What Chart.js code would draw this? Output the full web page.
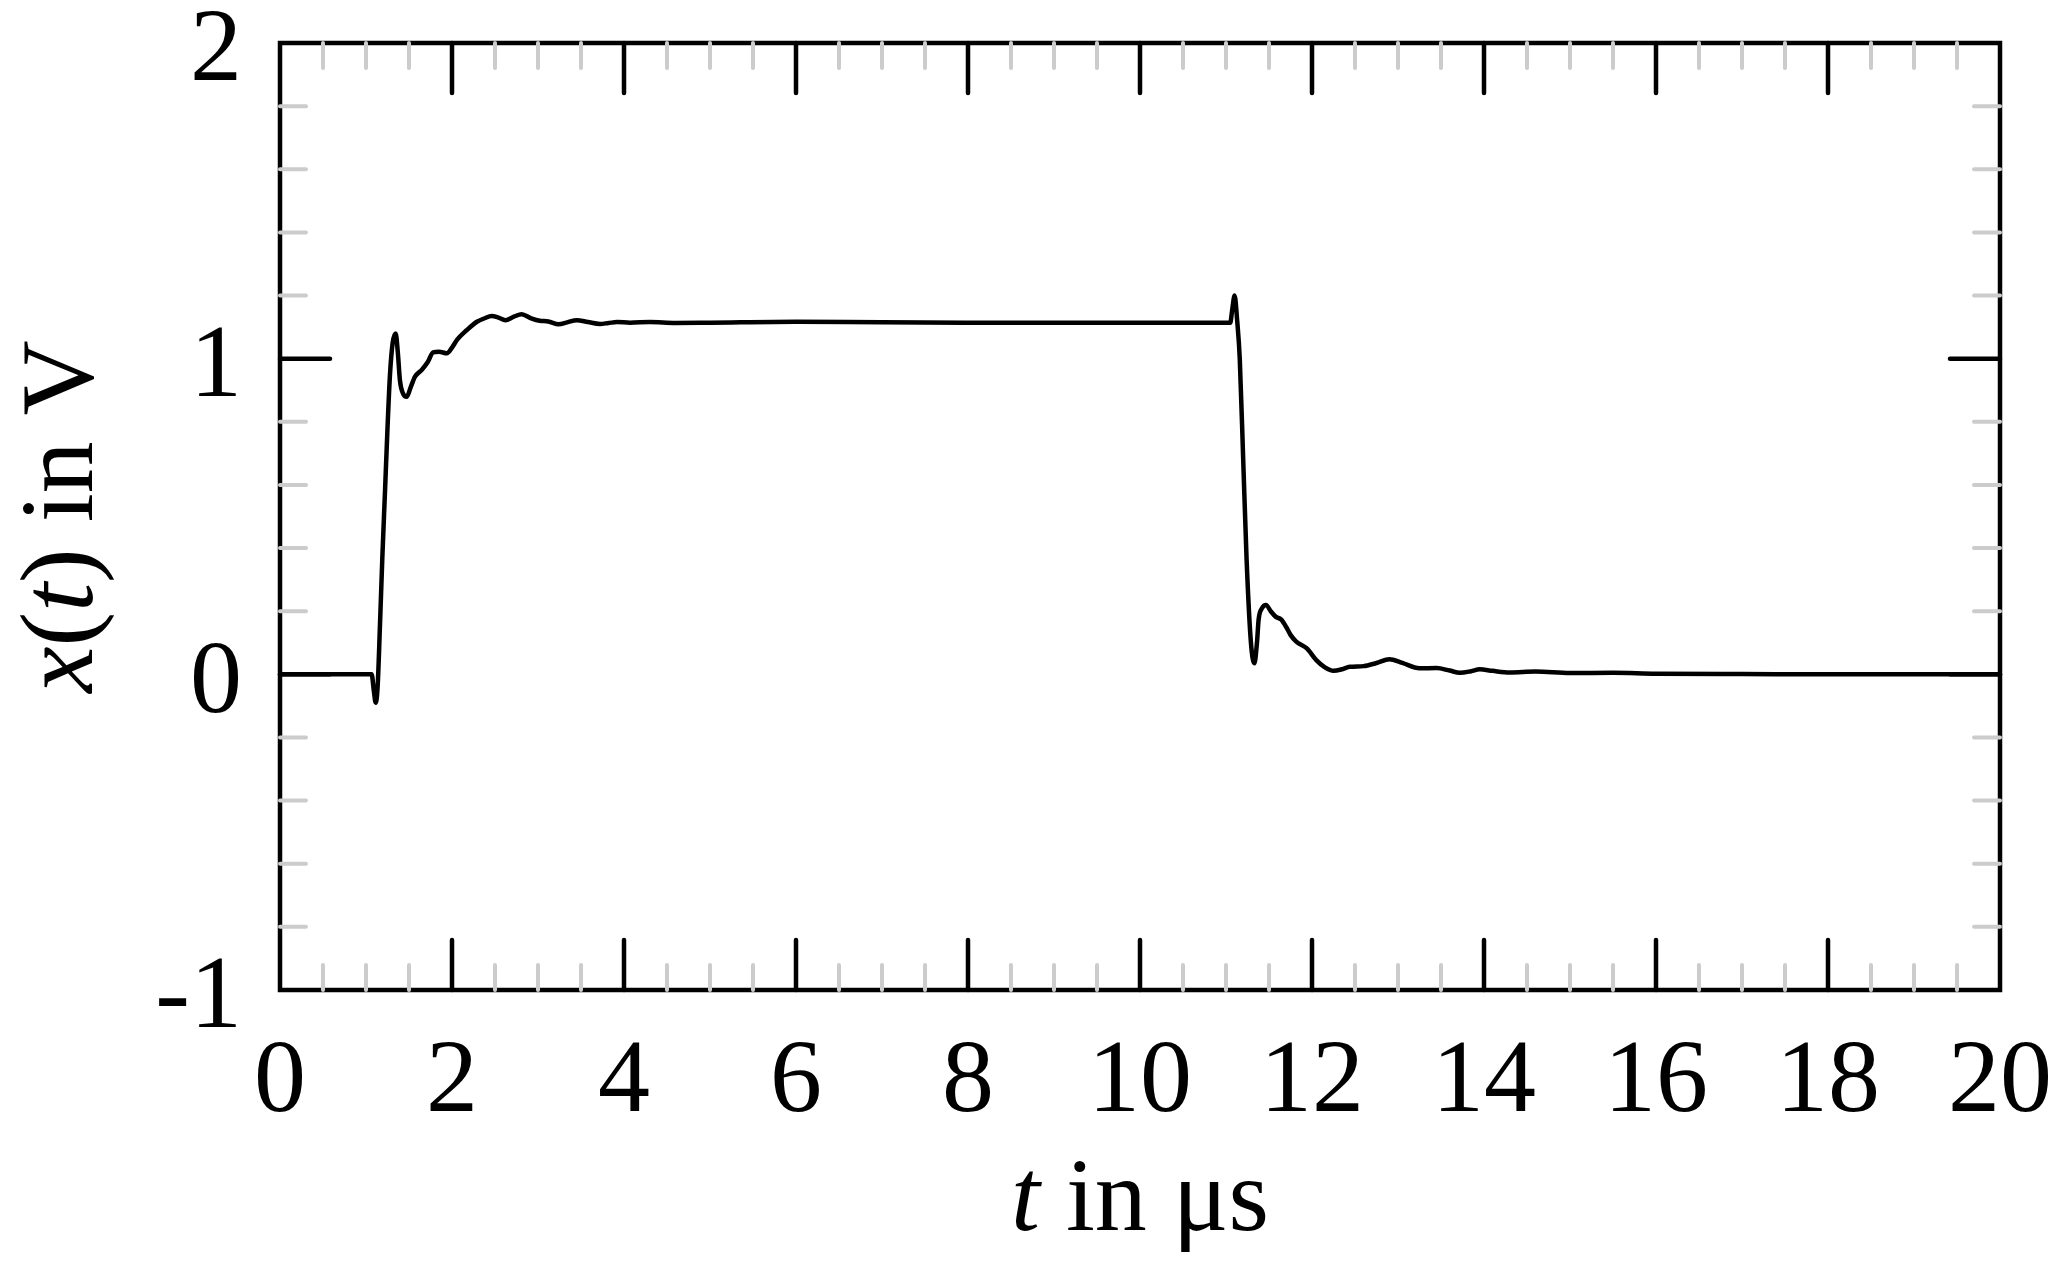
<!DOCTYPE html>
<html>
<head>
<meta charset="utf-8">
<script src="https://cdn.jsdelivr.net/npm/chart.js@4/dist/chart.umd.min.js"></script>
<style>
  html, body { margin: 0; padding: 0; background: #fff; }
  #wrap { width: 2067px; height: 1270px; }
</style>
</head>
<body>
<div id="wrap"><canvas id="signal"></canvas></div>
<script>
// time axis (µs) and voltage
var tValues = [
  0, 1.05, 1.066, 1.09, 1.113, 1.135, 1.163, 1.19, 1.221, 1.25, 1.279, 1.31, 1.345, 1.37, 1.395, 1.43, 1.473,
  1.52, 1.57, 1.65, 1.72, 1.78, 1.85, 1.94, 2.0, 2.06, 2.17, 2.29, 2.38, 2.46, 2.54, 2.62, 2.72, 2.81, 2.92,
  3.02, 3.12, 3.24, 3.34, 3.45, 3.58, 3.72, 3.82, 3.92, 4.07, 4.3, 4.6, 5.0, 6.0, 7.0, 8.0, 9.0, 10.0, 11.05,
  11.07, 11.1, 11.13, 11.16, 11.2, 11.24, 11.29, 11.33, 11.36, 11.38, 11.42, 11.465, 11.52, 11.58, 11.64,
  11.7, 11.75, 11.82, 11.94, 12.05, 12.15, 12.25, 12.35, 12.44, 12.6, 12.75, 12.9, 13.05, 13.25, 13.45,
  13.6, 13.72, 13.85, 13.95, 14.1, 14.3, 14.6, 15.0, 15.5, 16.0, 17.0, 18.0, 20.0
];
var xValues = [
  0, 0, 0, -0.05, -0.09, -0.04, 0.16, 0.37, 0.58, 0.78, 0.95, 1.05, 1.08, 1.02, 0.93, 0.89, 0.879,
  0.91, 0.943, 0.965, 0.99, 1.02, 1.022, 1.017, 1.035, 1.06, 1.09, 1.117, 1.128, 1.135, 1.13, 1.122, 1.133, 1.141, 1.128,
  1.12, 1.118, 1.109, 1.115, 1.122, 1.116, 1.11, 1.113, 1.116, 1.114, 1.116, 1.113, 1.114, 1.117, 1.115, 1.114, 1.114, 1.114, 1.114,
  1.15, 1.2, 1.12, 1.0, 0.68, 0.36, 0.1, 0.035, 0.1, 0.175, 0.21, 0.22, 0.2, 0.182, 0.174,
  0.15, 0.125, 0.103, 0.082, 0.045, 0.022, 0.011, 0.016, 0.024, 0.026, 0.036, 0.048, 0.036, 0.019, 0.02,
  0.012, 0.005, 0.01, 0.016, 0.011, 0.006, 0.009, 0.004, 0.005, 0.002, 0.001, 0, 0
];

// ticks
var xMajor = [0, 2, 4, 6, 8, 10, 12, 14, 16, 18, 20];
var xMinorStep = 0.5;
var yMajor = [-1, 0, 1, 2];
var yMinorStep = 0.2;

var points = tValues.map(function (t, i) { return { x: t, y: xValues[i] }; });
var serif = "'Liberation Serif', 'Times New Roman', serif";

function minorTicks(min, max, step, major) {
  var out = [];
  for (var v = min + step; v < max - 1e-9; v += step) {
    var r = Math.round(v * 100) / 100;
    if (major.indexOf(r) < 0) out.push(r);
  }
  return out;
}

var frame = {
  id: 'frame',
  beforeDatasetsDraw: function (chart) {
    var ctx = chart.ctx, a = chart.chartArea;
    var xs = chart.scales.x, ys = chart.scales.y;
    function seg(x1, y1, x2, y2) { ctx.beginPath(); ctx.moveTo(x1, y1); ctx.lineTo(x2, y2); ctx.stroke(); }
    ctx.save();
    ctx.lineWidth = 4.5;
    ctx.strokeStyle = '#000';
    ctx.strokeRect(a.left, a.top, a.right - a.left, a.bottom - a.top);

    ctx.lineCap = 'round';
    ctx.strokeStyle = '#cccccc';
    ctx.lineWidth = 4;
    minorTicks(0, 20, xMinorStep, xMajor).forEach(function (v) {
      var px = xs.getPixelForValue(v);
      seg(px, a.bottom, px, a.bottom - 25);
      seg(px, a.top, px, a.top + 25);
    });
    minorTicks(-1, 2, yMinorStep, yMajor).forEach(function (v) {
      var py = ys.getPixelForValue(v);
      seg(a.left, py, a.left + 26, py);
      seg(a.right, py, a.right - 26, py);
    });

    ctx.strokeStyle = '#000';
    ctx.lineWidth = 4.5;
    xMajor.slice(1, -1).forEach(function (v) {
      var px = xs.getPixelForValue(v);
      seg(px, a.bottom, px, a.bottom - 50);
      seg(px, a.top, px, a.top + 50);
    });
    yMajor.slice(1, -1).forEach(function (v) {
      var py = ys.getPixelForValue(v);
      seg(a.left, py, a.left + 50, py);
      seg(a.right, py, a.right - 50, py);
    });
    ctx.restore();
  },
  afterDraw: function (chart) {
    var ctx = chart.ctx, a = chart.chartArea;
    var up = '104px ' + serif, it = 'italic 104px ' + serif;
    function runs(list, cx, cy, rot) {
      var w = 0;
      list.forEach(function (r) { ctx.font = r[1]; r.push(ctx.measureText(r[0]).width); w += r[2]; });
      ctx.save();
      ctx.translate(cx, cy);
      ctx.rotate(rot);
      ctx.fillStyle = '#000';
      ctx.textBaseline = 'alphabetic';
      var x = -w / 2;
      list.forEach(function (r) { ctx.font = r[1]; ctx.fillText(r[0], x, 0); x += r[2]; });
      ctx.restore();
    }
    runs([['t', it], [' in \u03bcs', up]], (a.left + a.right) / 2, 1230, 0);
    runs([['x', it], ['(', up], ['t', it], [')', up], [' in V', up]], 92, (a.top + a.bottom) / 2, -Math.PI / 2);
  }
};

new Chart('signal', {
  type: 'scatter',
  data: {
    datasets: [{
      data: points,
      showLine: true,
      borderColor: '#000',
      borderWidth: 4.5,
      pointRadius: 0,
      cubicInterpolationMode: 'monotone',
      fill: false
    }]
  },
  options: {
    responsive: true,
    maintainAspectRatio: false,
    animation: false,
    devicePixelRatio: 1,
    layout: { padding: { top: 43, right: 67, left: 0, bottom: 0 } },
    plugins: { legend: { display: false }, tooltip: { enabled: false } },
    scales: {
      x: {
        type: 'linear', min: 0, max: 20,
        afterFit: function (s) { s.height = 280; s.paddingLeft = 0; s.paddingRight = 0; },
        grid: { display: false, drawTicks: false },
        border: { display: false },
        ticks: {
          stepSize: 2, padding: 31, color: '#000', maxRotation: 0, autoSkip: false,
          font: { family: serif, size: 104 }
        }
      },
      y: {
        type: 'linear', min: -1, max: 2,
        afterFit: function (s) { s.width = 280; s.paddingTop = 0; s.paddingBottom = 0; },
        grid: { display: false, drawTicks: false },
        border: { display: false },
        ticks: {
          stepSize: 1, padding: 38, labelOffset: 10, color: '#000',
          font: { family: serif, size: 104 }
        }
      }
    }
  },
  plugins: [frame]
});
</script>
</body>
</html>
